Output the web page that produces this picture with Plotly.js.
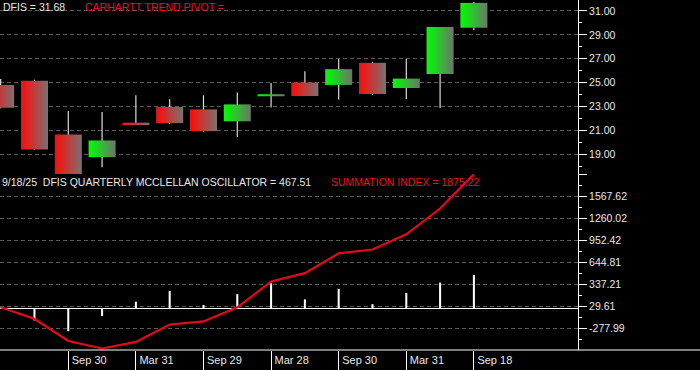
<!DOCTYPE html>
<html><head><meta charset="utf-8">
<script src="https://cdn.plot.ly/plotly-3.0.1.min.js"></script>
<style>html,body{margin:0;padding:0;background:#000;} #chart{width:700px;height:370px;}</style>
</head><body><div id="chart"></div>
<script>
// ---- data ----
const quarters = ['2022-03-31','2022-06-30','2022-09-30','2022-12-30','2023-03-31','2023-06-30','2023-09-29','2023-12-29','2024-03-28','2024-06-28','2024-09-30','2024-12-31','2025-03-31','2025-06-30','2025-09-18'];
const open  = [24.80, 25.15, 20.66, 18.76, 21.65, 22.96, 22.76, 21.76, 23.86, 25.01, 24.81, 26.66, 24.55, 25.73, 29.60];
const high  = [25.30, 25.25, 22.62, 22.54, 23.94, 23.60, 23.94, 24.17, 24.98, 25.96, 26.97, 26.74, 26.97, 29.66, 31.75];
const low   = [22.85, 19.40, 17.15, 17.92, 21.45, 21.55, 20.90, 20.44, 22.91, 23.88, 23.58, 23.97, 23.64, 22.87, 29.40];
const close = [22.90, 19.40, 17.22, 20.16, 21.45, 21.61, 20.94, 23.18, 24.03, 23.88, 26.13, 24.05, 25.34, 29.66, 31.68];
const oscillator = [10, -170, -320, -108, 92, 242, 46, 198, 350, 125, 272, 58, 215, 360, 467.51];
const summation  = [14, -150, -457, -562, -470, -226, -184, 14, 375, 492, 768, 822, 1035, 1395, 1875.22];
const xTickAt     = ['2022-09-30','2023-03-31','2023-09-29','2024-03-28','2024-09-30','2025-03-31','2025-09-18'];
const xTickLabels = ['Sep 30','Mar 31','Sep 29','Mar 28','Sep 30','Mar 31','Sep 18'];
const oscTickLabels = ['-277.99','29.61','337.21','644.81','952.42','1260.02','1567.62','1875.22'];

// ---- build ----
const idx = quarters.map((q,i)=>i);
const redScale = [[0,'#ff0a0a'],[1,'#787272']];
const greenScale = [[0,'#00ff00'],[1,'#6e736e']];
const W = 0.4;
const traces = [];
const wx = [], wy = [];
idx.forEach(i=>{ wx.push(i,i,null); wy.push(high[i],low[i],null); });
traces.push({type:'scatter', mode:'lines', x:wx, y:wy, xaxis:'x', yaxis:'y',
  line:{color:'#dcdcdc', width:1.2}, hoverinfo:'skip', showlegend:false});
idx.forEach(i=>{
  const up = close[i] >= open[i];
  traces.push({type:'scatter', mode:'none', xaxis:'x', yaxis:'y',
    x:[i-W,i+W,i+W,i-W,i-W], y:[open[i],open[i],close[i],close[i],open[i]],
    fill:'toself', fillcolor: up ? '#00ff00' : '#ff0000',
    fillgradient:{type:'horizontal', colorscale: up ? greenScale : redScale},
    hoverinfo:'skip', showlegend:false});
});
traces.push({type:'bar', x:idx, y:oscillator, xaxis:'x', yaxis:'y2', width:0.06,
  marker:{color:'#ffffff', line:{width:0}}, hoverinfo:'skip', showlegend:false});
traces.push({type:'scatter', mode:'lines', x:idx, y:summation, xaxis:'x', yaxis:'y2',
  line:{color:'#e8071a', width:2.2}, hoverinfo:'skip', showlegend:false});

const oscTickVals = oscTickLabels.map(Number);
const oscTickText = oscTickLabels.map((t,k)=> k===oscTickLabels.length-1 ? '' : t);
const oscMinor = [];
const oscStep = oscTickVals[1]-oscTickVals[0];
oscTickVals.forEach(v=>oscMinor.push(v - oscStep/2));

const last = quarters.length-1;
const d = quarters[last].split('-');
const dateStr = (+d[1]) + '/' + (+d[2]) + '/' + d[0].slice(2);

const textFont = {family:'Liberation Sans, Arial, sans-serif', size:10.5, color:'#e8e8e8'};
const tickFontX = {family:'Liberation Sans, Arial, sans-serif', size:11, color:'#e8e8e8'};
const redFont = {family:'Liberation Sans, Arial, sans-serif', size:10.5, color:'#e8141c'};
const domSplit = 1 - 174/350;

const layout = {
  width:700, height:370,
  margin:{l:0,r:0,t:0,b:20,pad:0},
  paper_bgcolor:'#000', plot_bgcolor:'#000',
  showlegend:false, hovermode:false,
  font:textFont,
  xaxis:{domain:[0, 578/700], range:[-0.02, 17.08], anchor:'y2',
    tickmode:'array', tickvals:xTickAt.map(q=>quarters.indexOf(q)), ticktext:xTickLabels,
    ticks:'outside', ticklen:20, tickcolor:'#ffffff', tickwidth:1,
    ticklabelposition:'outside right', ticklabelstandoff:0, ticklabelshift:3,
    tickfont:tickFontX, showgrid:false, zeroline:false, showline:false},
  yaxis:{domain:[domSplit,1], range:[17.35,31.92], side:'right', anchor:'x',
    tickmode:'linear', tick0:17, dtick:2, tickformat:'.2f',
    ticks:'outside', ticklen:8, tickcolor:'#ffffff', tickwidth:1, tickfont:textFont,
    showline:true, linecolor:'#ffffff', linewidth:1,
    showgrid:true, gridcolor:'#5a5a5a', gridwidth:1, griddash:'4px,3px', zeroline:false,
    minor:{tickmode:'linear', tick0:17, dtick:1, ticks:'outside', ticklen:3, tickcolor:'#ffffff', showgrid:false}},
  yaxis2:{domain:[0,domSplit], range:[-583,1878], side:'right', anchor:'x',
    tickmode:'array', tickvals:oscTickVals, ticktext:oscTickText,
    ticks:'outside', ticklen:8, tickcolor:'#ffffff', tickwidth:1, tickfont:textFont,
    showline:true, linecolor:'#ffffff', linewidth:1,
    showgrid:true, gridcolor:'#5a5a5a', gridwidth:1, griddash:'4px,3px',
    zeroline:true, zerolinecolor:'#ffffff', zerolinewidth:1.5,
    minor:{tickmode:'array', tickvals:oscMinor, ticks:'outside', ticklen:3, tickcolor:'#ffffff', showgrid:false}},
  shapes:[{type:'line', xref:'paper', yref:'paper', x0:0, x1:1, y0:0, y1:0, line:{color:'#ffffff', width:1}}],
  annotations:[
    {text:'DFIS = ' + close[last].toFixed(2), xref:'paper', yref:'paper', x:0.002, y:1-7/350, xanchor:'left', yanchor:'middle', showarrow:false, font:textFont},
    {text:'CARHARTT TREND PIVOT =', xref:'paper', yref:'paper', x:83/700, y:1-7/350, xanchor:'left', yanchor:'middle', showarrow:false, font:redFont},
    {text:dateStr + '\u00a0 DFIS QUARTERLY MCCLELLAN OSCILLATOR = ' + oscillator[last].toFixed(2), xref:'paper', yref:'paper', x:0, y:1-181.5/350, xanchor:'left', yanchor:'middle', showarrow:false, font:textFont},
    {text:'SUMMATION INDEX = ' + summation[last].toFixed(2), xref:'paper', yref:'paper', x:329/700, y:1-181.5/350, xanchor:'left', yanchor:'middle', showarrow:false, font:redFont}
  ]
};
Plotly.newPlot('chart', traces, layout, {displayModeBar:false, staticPlot:true});
</script></body></html>
